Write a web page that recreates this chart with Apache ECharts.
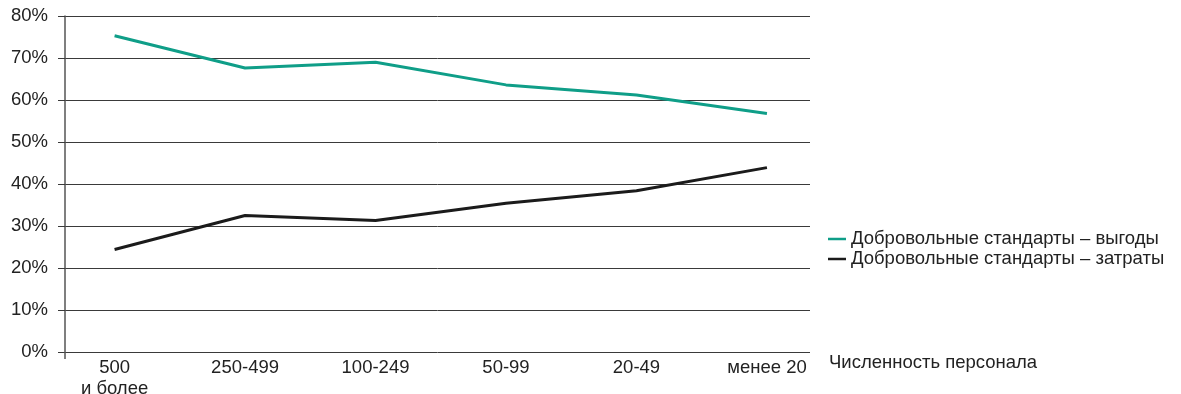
<!DOCTYPE html>
<html>
<head>
<meta charset="utf-8">
<script src="https://cdn.jsdelivr.net/npm/echarts@6/dist/echarts.min.js"></script>
<style>
  html, body { margin: 0; padding: 0; background: #fff; }
  #chart { width: 1181px; height: 394px; }
</style>
</head>
<body>
<div id="chart"></div>
<script>
// Company size groups (x axis)
const categories = ['500\nи более', '250-499', '100-249', '50-99', '20-49', 'менее 20'];
// Share of respondents, %
const benefits = [75.3, 67.6, 69.0, 63.6, 61.2, 56.8];
const costs = [24.4, 32.5, 31.3, 35.4, 38.4, 43.9];
const yTicks = [0, 10, 20, 30, 40, 50, 60, 70, 80];

const seriesNames = ['Добровольные стандарты – выгоды', 'Добровольные стандарты – затраты'];
const xAxisName = 'Численность персонала';

const FONT = '"Liberation Sans", Arial, sans-serif';
const FS = 18.5;
const TEXT = '#222';
const GRID_LINE = '#3a3a3a';

// Groups are placed at integer positions on a value axis so the plot can
// start a little before the first group and end after the last one.
const X_MIN = -0.38;
const X_MAX = 5.33;
const idx = categories.map((_, i) => i);

const chart = echarts.init(document.getElementById('chart'), null, { renderer: 'canvas' });
chart.setOption({
  animation: false,
  backgroundColor: '#fff',
  textStyle: { fontFamily: FONT },
  grid: { left: 65, right: 371, top: 16, bottom: 42, outerBoundsMode: 'none' },
  legend: {
    orient: 'vertical',
    left: 823,
    top: 224,
    itemWidth: 18,
    itemHeight: 2.5,
    itemGap: 0,
    icon: 'rect',
    textStyle: { fontFamily: FONT, fontSize: FS, color: TEXT, lineHeight: 20 },
    data: seriesNames
  },
  xAxis: {
    type: 'value',
    min: X_MIN,
    max: X_MAX,
    name: xAxisName,
    nameLocation: 'end',
    nameGap: 19,
    nameTextStyle: { fontFamily: FONT, fontSize: FS, color: TEXT, align: 'left', verticalAlign: 'top', padding: [1, 0, 0, 0] },
    axisLine: { show: false },
    splitLine: { show: false },
    axisTick: { show: true, length: 7, customValues: [X_MIN], lineStyle: { color: '#555', width: 1.5 } },
    axisLabel: {
      customValues: idx,
      margin: 5,
      fontFamily: FONT,
      fontSize: FS,
      color: TEXT,
      lineHeight: 21,
      formatter: v => categories[Math.round(v)]
    }
  },
  yAxis: {
    type: 'value',
    min: yTicks[0],
    max: yTicks[yTicks.length - 1],
    interval: 10,
    axisLine: { show: true, onZero: false, lineStyle: { color: '#555', width: 1.5 } },
    axisTick: { show: true, length: 7, lineStyle: { color: GRID_LINE, width: 1 } },
    splitLine: { show: true, lineStyle: { color: GRID_LINE, width: 1 } },
    axisLabel: { margin: 17, fontFamily: FONT, fontSize: FS, color: TEXT, formatter: '{value}%' }
  },
  series: [
    {
      name: seriesNames[0],
      type: 'line',
      data: benefits.map((v, i) => [idx[i], v]),
      showSymbol: false,
      symbol: 'none',
      color: '#0f9e88',
      lineStyle: { width: 3, color: '#0f9e88' }
    },
    {
      name: seriesNames[1],
      type: 'line',
      data: costs.map((v, i) => [idx[i], v]),
      showSymbol: false,
      symbol: 'none',
      color: '#1b1b1b',
      lineStyle: { width: 3, color: '#1b1b1b' }
    }
  ]
});
</script>
</body>
</html>
